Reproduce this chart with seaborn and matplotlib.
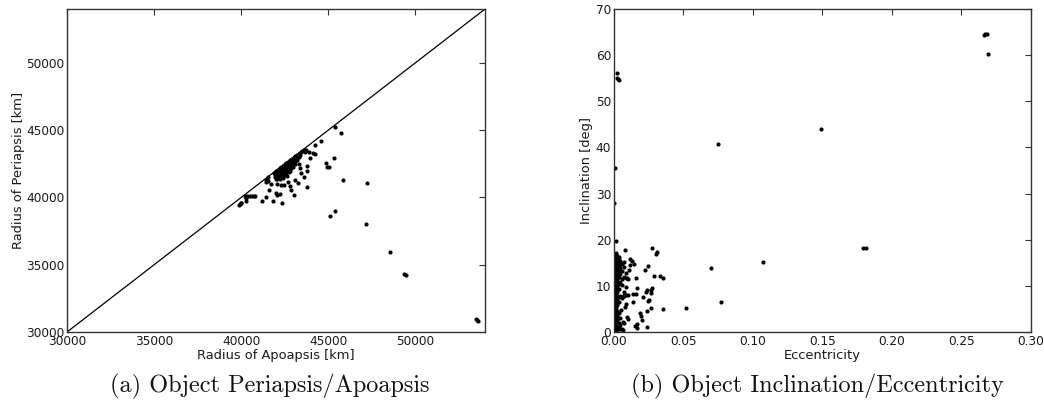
import matplotlib
matplotlib.use("Agg")
import matplotlib.pyplot as plt
import numpy as np
import pandas as pd
import seaborn as sns

# ---------------- Panel (a): periapsis vs apoapsis (km) ----------------
apo_outer = [45360, 45730, 44580, 45300, 44860, 44920, 45050, 45820, 47220, 45360,
             45090, 47170, 48530, 49330, 49450, 53460, 53550, 53610, 44230, 44150,
             44250, 43960, 43770, 43580, 43270, 43080, 43060, 42780, 42870, 42660,
             42330, 42300, 42040, 42000, 42200, 41850, 41620, 41430, 41180, 41430,
             41560, 41700, 42040, 42430, 43300, 43400, 43450, 43750, 43800, 43920,
             43700, 43650, 40220, 40350, 40480, 40600, 40720, 40800, 40300, 40260,
             39970, 39900, 39950, 40000, 40280, 40280, 41500, 41550, 41450]
peri_outer = [45220, 44800, 44210, 42900, 42550, 42250, 42250, 41310, 41060, 38990,
              38590, 38040, 35940, 34280, 34230, 30990, 30870, 30790, 43860, 43290,
              43240, 42950, 40770, 41510, 41060, 41260, 40150, 40820, 40520, 41140,
              39600, 40890, 40180, 40350, 40250, 39750, 40570, 40030, 39730, 41260,
              41510, 41010, 41010, 40890, 42500, 42200, 41850, 42300, 42000, 43360,
              43500, 43400, 40100, 40100, 40100, 40100, 40100, 40100, 40050, 39950,
              39550, 39450, 39480, 39600, 39700, 40020, 41300, 41200, 41150]

apo_core = [41880, 41920, 41950, 41980, 42020, 42050, 42030, 42080, 42060,
            42130, 42110, 42150, 42120, 42170, 42220, 42240, 42200, 42260, 42230, 42210,
            42310, 42330, 42290, 42350, 42320, 42280, 42410, 42380, 42430, 42400, 42440,
            42390, 42420, 42510, 42490, 42530, 42500, 42480, 42540, 42600, 42620, 42580,
            42640, 42610, 42570, 42630, 42710, 42690, 42730, 42700, 42680, 42740, 42800,
            42820, 42790, 42830, 42810, 42780, 42910, 42890, 42930, 42900, 42880, 43010,
            42990, 43030, 43000, 42980, 43100, 43120, 43080, 43110, 43210, 43190, 43230,
            43310, 43290, 43410, 43390, 43510, 43600]
peri_core = [41820, 41650, 41500, 41380, 41960, 41780, 41620, 41480, 41350,
             42060, 41900, 41740, 41580, 41430, 42160, 41990, 41840, 41700, 41560, 41390,
             42250, 42090, 41940, 41810, 41640, 41500, 42360, 42190, 42040, 41880, 41740,
             41590, 41440, 42450, 42290, 42140, 41990, 41840, 41690, 42550, 42390, 42240,
             42110, 41940, 41790, 41580, 42660, 42490, 42340, 42190, 42060, 41890, 42750,
             42610, 42440, 42290, 42140, 41940, 42860, 42690, 42540, 42400, 42190, 42950,
             42810, 42640, 42460, 42240, 43060, 42890, 42710, 42510, 43160, 42960, 42760,
             43260, 43040, 43360, 43140, 43460, 43540]

# ---------------- Panel (b): inclination vs eccentricity ----------------
ecc_outer = [0.2664, 0.2671, 0.2681, 0.2693, 0.1488, 0.0746, 0.179, 0.181, 0.107, 0.0698,
             0.077, 0.0516, 0.035, 0.0025, 0.0020, 0.0030, 0.0036, 0.0010, 0.0002, 0.0015,
             0.008, 0.0271, 0.030, 0.031, 0.0355, 0.033, 0.0288, 0.0247, 0.0223, 0.0115,
             0.0127, 0.0144, 0.0158, 0.0274, 0.0269, 0.0264, 0.0235, 0.023, 0.0206, 0.0168,
             0.0139, 0.0158, 0.0254, 0.0245, 0.0264, 0.0235, 0.0187, 0.0192, 0.0199, 0.0163,
             0.0151, 0.0168, 0.0235, 0.0134, 0.0101, 0.0090, 0.0095, 0.0086, 0.0072, 0.0070,
             0.0085, 0.0100, 0.0090, 0.0079, 0.0048, 0.0103, 0.0091, 0.0067, 0.0043, 0.0067,
             0.0105, 0.0118, 0.0060, 0.0085]
inc_outer = [64.35, 64.5, 64.65, 60.3, 44.1, 40.7, 18.3, 18.3, 15.2, 13.9,
             6.4, 5.1, 5.0, 56.2, 55.0, 54.8, 54.6, 35.6, 28.0, 19.7,
             17.7, 18.1, 17.0, 17.3, 11.8, 12.1, 12.1, 14.3, 13.5, 15.9,
             15.4, 14.8, 11.8, 9.6, 9.0, 8.5, 9.0, 8.6, 7.6, 9.5,
             8.3, 8.3, 7.0, 6.7, 5.3, 4.6, 4.1, 3.5, 2.5, 1.8,
             1.4, 0.9, 1.0, 6.5, 11.4, 11.6, 11.8, 9.8, 8.7, 8.0,
             8.0, 8.1, 6.0, 5.4, 4.7, 2.9, 3.3, 2.2, 0.7, 0.5,
             13.4, 14.6, 10.2, 12.8]

col_ecc = [0.0004, 0.0013, 0.0023, 0.0034, 0.0046, 0.0060, 0.0075]
col_inc = [
    [0.2, 0.9, 1.7, 2.4, 3.3, 3.9, 4.8, 5.5, 6.2, 6.8, 7.7, 8.4, 9.1, 9.7, 10.6,
     11.3, 11.8, 12.7, 13.3, 14.2, 14.9, 15.6, 16.3, 17.0],
    [0.5, 1.3, 2.1, 2.9, 3.6, 4.4, 5.1, 5.9, 6.6, 7.3, 8.0, 8.8, 9.5, 10.2, 11.0,
     11.7, 12.4, 13.1, 13.8, 14.6, 15.3, 16.0, 16.7, 17.2],
    [0.3, 1.1, 2.6, 3.4, 4.6, 5.8, 7.0, 7.9, 8.6, 9.9, 10.8, 11.5, 12.2, 12.9, 13.6,
     14.3, 15.1, 15.8, 16.5],
    [0.8, 2.0, 4.2, 6.4, 7.5, 9.3, 10.4, 11.9, 12.8, 13.5, 14.4, 15.0, 15.7, 16.2],
    [1.5, 3.0, 7.8, 10.9, 12.6, 13.9, 14.7, 15.4],
    [0.6, 7.4, 11.4, 13.2, 14.8],
    [1.9, 7.9, 12.0, 14.1, 15.2],
]

# ---------------- build tables ----------------
df_a = pd.DataFrame({"apo": apo_outer + apo_core, "peri": peri_outer + peri_core})
ecc_core, inc_core = [], []
for e, incs in zip(col_ecc, col_inc):
    ecc_core += [e] * len(incs)
    inc_core += incs
df_b = pd.DataFrame({"ecc": ecc_outer + ecc_core, "inc": inc_outer + inc_core})

# ---------------- style ----------------
sns.set_style("white")
plt.rcParams.update({
    "font.family": ["DejaVu Sans"],
    "xtick.direction": "in", "ytick.direction": "in",
    "xtick.top": True, "ytick.right": True,
    "xtick.major.size": 4, "ytick.major.size": 4,
    "xtick.major.width": 0.8, "ytick.major.width": 0.8,
    "xtick.color": "#333333", "ytick.color": "#333333",
    "xtick.labelcolor": "#1a1a1a", "ytick.labelcolor": "#1a1a1a",
    "axes.edgecolor": "#333333", "axes.linewidth": 1.0,
    "xtick.labelsize": 8.7, "ytick.labelsize": 8.7,
    "axes.labelsize": 9.4, "axes.labelcolor": "#1a1a1a",
})

fig = plt.figure(figsize=(10.44, 4.17), dpi=100)
ax1 = fig.add_axes([0.0642, 0.2038, 0.4004, 0.7746])
ax2 = fig.add_axes([0.5881, 0.2038, 0.3994, 0.7746])

# Panel (a)
lims_a = [30000, 54000]
ax1.plot(lims_a, lims_a, color="black", linewidth=0.9)
sns.scatterplot(data=df_a, x="apo", y="peri", ax=ax1, color="black", s=9,
                linewidth=0, legend=False)
ax1.set_xlim(lims_a)
ax1.set_ylim(lims_a)
ax1.set_xticks([30000, 35000, 40000, 45000, 50000])
ax1.set_yticks([30000, 35000, 40000, 45000, 50000])
ax1.set_xlabel("Radius of Apoapsis [km]", labelpad=1)
ax1.set_ylabel("Radius of Periapsis [km]", labelpad=1)

# Panel (b)
sns.scatterplot(data=df_b, x="ecc", y="inc", ax=ax2, color="black", s=9,
                linewidth=0, legend=False)
ax2.set_xlim(0, 0.30)
ax2.set_ylim(0, 70)
ax2.set_xticks([0.0, 0.05, 0.10, 0.15, 0.20, 0.25, 0.30])
ax2.set_xticklabels(["0.00", "0.05", "0.10", "0.15", "0.20", "0.25", "0.30"])
ax2.set_yticks([0, 10, 20, 30, 40, 50, 60, 70])
ax2.set_xlabel("Eccentricity", labelpad=1)
ax2.set_ylabel("Inclination [deg]", labelpad=2)

for ax in (ax1, ax2):
    for sp in ax.spines.values():
        sp.set_visible(True)
    ax.tick_params(pad=2)

fig.text(0.2586, 0.074, "(a) Object Periapsis/Apoapsis", family="cmr10",
         fontsize=17.5, ha="center", va="center", color="#111111")
fig.text(0.7826, 0.074, "(b) Object Inclination/Eccentricity", family="cmr10",
         fontsize=17.5, ha="center", va="center", color="#111111")

fig.savefig("out.png", dpi=100)
